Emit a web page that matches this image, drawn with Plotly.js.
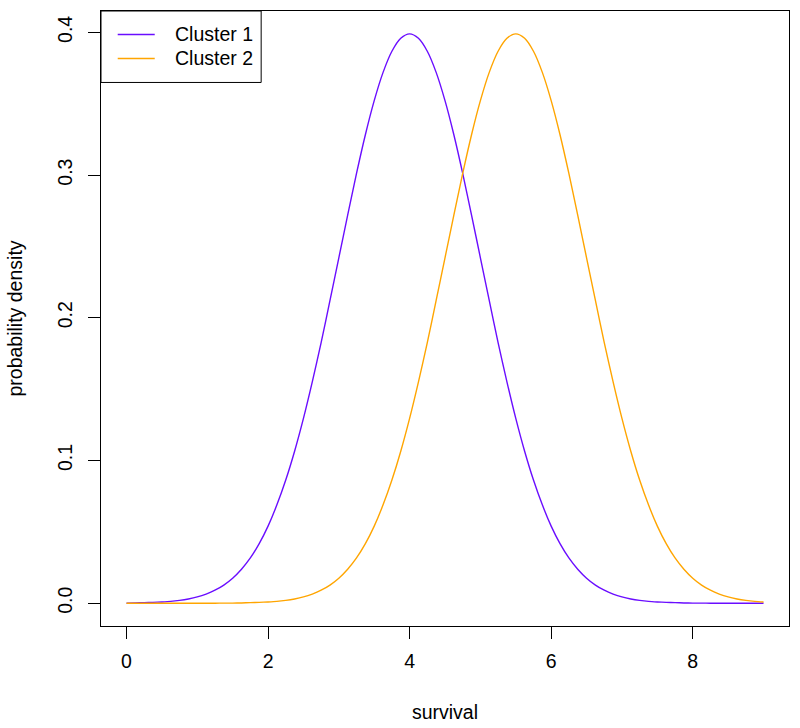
<!DOCTYPE html>
<html>
<head>
<meta charset="utf-8">
<script src="https://cdn.plot.ly/plotly-3.0.1.min.js"></script>
<style>html,body{margin:0;padding:0;background:#fff;}#chart{width:800px;height:728px;}</style>
</head>
<body>
<div id="chart"></div>
<script>
// survival values (x) sampled every 0.125
const survival = [0,0.125,0.25,0.375,0.5,0.625,0.75,0.875,1,1.125,1.25,1.375,1.5,1.625,1.75,1.875,2,2.125,2.25,2.375,2.5,2.625,2.75,2.875,3,3.125,3.25,3.375,3.5,3.625,3.75,3.875,4,4.125,4.25,4.375,4.5,4.625,4.75,4.875,5,5.125,5.25,5.375,5.5,5.625,5.75,5.875,6,6.125,6.25,6.375,6.5,6.625,6.75,6.875,7,7.125,7.25,7.375,7.5,7.625,7.75,7.875,8,8.125,8.25,8.375,8.5,8.625,8.75,8.875,9];
// Cluster 1 density (peak near 4)
const cluster1 = [0.0001,0.0002,0.0004,0.0006,0.0009,0.0013,0.0020,0.0030,0.0044,0.0064,0.0091,0.0127,0.0175,0.0238,0.0317,0.0417,0.0540,0.0689,0.0863,0.1065,0.1295,0.1551,0.1826,0.2121,0.2420,0.2719,0.3011,0.3282,0.3521,0.3719,0.3867,0.3958,0.3989,
  0.3958,0.3867,0.3719,0.3521,0.3282,0.3011,0.2719,0.2420,0.2121,0.1826,0.1551,0.1295,0.1065,0.0863,0.0689,0.0540,0.0417,0.0317,0.0238,0.0175,0.0127,0.0091,0.0064,0.0044,0.0030,0.0020,0.0013,0.0009,0.0006,0.0004,0.0002,0.0001,0.0001,0,0,0,0,0,0,0];
// Cluster 2 density (peak near 5.5)
const cluster2 = [0,0,0,0,0,0,0,0,0,0,0,0.0001,0.0001,0.0002,0.0004,0.0006,0.0009,0.0013,0.0020,0.0030,0.0044,0.0064,0.0091,0.0127,0.0175,0.0238,0.0317,0.0417,0.0540,0.0689,0.0863,0.1065,0.1295,0.1551,0.1826,0.2121,0.2420,0.2719,0.3011,0.3282,0.3521,0.3719,0.3867,0.3958,0.3989,
  0.3958,0.3867,0.3719,0.3521,0.3282,0.3011,0.2719,0.2420,0.2121,0.1826,0.1551,0.1295,0.1065,0.0863,0.0689,0.0540,0.0417,0.0317,0.0238,0.0175,0.0127,0.0091,0.0064,0.0044,0.0030,0.0020,0.0013,0.0009];
const seriesNames = ["Cluster 1","Cluster 2"];
const seriesColors = ["#6A0DFF","#FFA500"];
const xTicks = [0,2,4,6,8];
const yTicks = [0,0.1,0.2,0.3,0.4];
const yTickText = ["0.0","0.1","0.2","0.3","0.4"];
</script>
<script>
const font = "Liberation Sans, Arial, Helvetica, sans-serif";
const fs = 19.5;
const traces = [
  {x: survival, y: cluster1, name: seriesNames[0], type: "scatter", mode: "lines",
   line: {color: seriesColors[0], width: 1.4, shape: "spline", smoothing: 0.8}},
  {x: survival, y: cluster2, name: seriesNames[1], type: "scatter", mode: "lines",
   line: {color: seriesColors[1], width: 1.4, shape: "spline", smoothing: 0.8}}
];
// legend drawn R-style (box, line samples, labels) in paper coordinates
const legendRows = [0.9618, 0.9228];
const shapes = [
  {type: "rect", xref: "paper", yref: "paper", x0: 0, x1: 0.2328, y0: 0.8838, y1: 1,
   line: {color: "#000", width: 1}, fillcolor: "#fff", layer: "above"}
];
const annotations = [];
seriesNames.forEach((nm, i) => {
  shapes.push({type: "line", xref: "paper", yref: "paper", x0: 0.0243, x1: 0.0781,
    y0: legendRows[i], y1: legendRows[i], line: {color: seriesColors[i], width: 1.4}, layer: "above"});
  annotations.push({xref: "paper", yref: "paper", x: 0.1043, y: legendRows[i], xanchor: "left",
    yanchor: "middle", text: nm, showarrow: false, font: {family: font, size: fs, color: "#000"}});
});
const layout = {
  width: 800, height: 728,
  margin: {l: 101.3, r: 11.3, t: 10.5, b: 102},
  paper_bgcolor: "#fff", plot_bgcolor: "#fff",
  font: {family: font, size: fs, color: "#000"},
  showlegend: false,
  shapes: shapes, annotations: annotations,
  xaxis: {range: [-0.36, 9.36], tickvals: xTicks, ticktext: xTicks.map(String), ticks: "outside",
          ticklen: 12, tickwidth: 1, tickcolor: "#000", showgrid: false, zeroline: false,
          showline: true, mirror: true, linecolor: "#000", linewidth: 1, ticklabelstandoff: 6,
          tickfont: {family: font, size: fs},
          title: {text: "survival", font: {family: font, size: fs}, standoff: 33}},
  yaxis: {range: [-0.01596, 0.4149], tickvals: yTicks, ticktext: yTickText, ticks: "outside",
          ticklen: 12, tickwidth: 1, tickcolor: "#000", showgrid: false, zeroline: false,
          showline: true, mirror: true, linecolor: "#000", linewidth: 1, tickangle: -90,
          ticklabelstandoff: 8, tickfont: {family: font, size: fs},
          title: {text: "probability density", font: {family: font, size: fs}, standoff: 26}}
};
Plotly.newPlot("chart", traces, layout, {staticPlot: true});
</script>
</body>
</html>
